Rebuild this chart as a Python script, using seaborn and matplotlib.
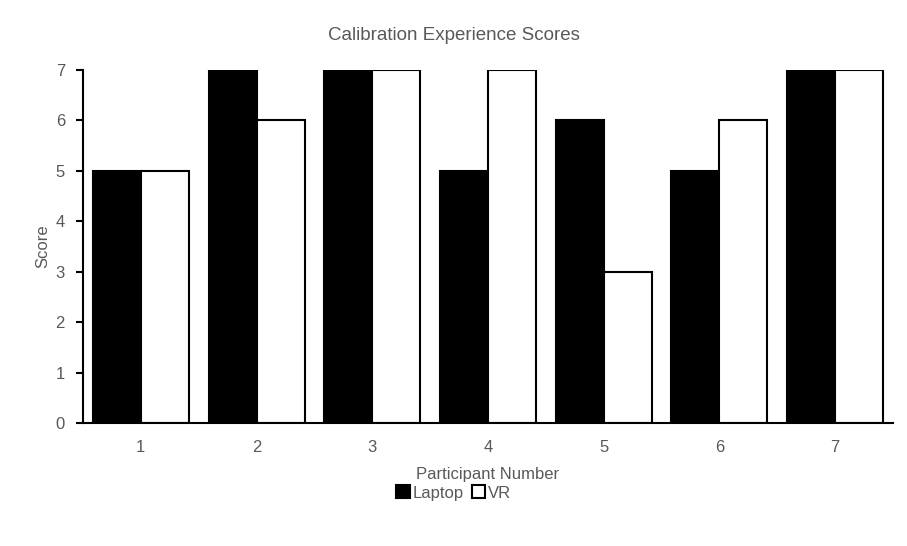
import matplotlib
matplotlib.use("Agg")
import matplotlib.pyplot as plt
import seaborn as sns
import pandas as pd
import numpy as np
from matplotlib.patches import Patch

participants = ["1", "2", "3", "4", "5", "6", "7"]
laptop = [5, 7, 7, 5, 6, 5, 7]
vr = [5, 6, 7, 7, 3, 6, 7]
series = ["Laptop", "VR"]
colors = {"Laptop": "#000000", "VR": "#ffffff"}

df = pd.DataFrame({
    "Participant": participants * 2,
    "Score": laptop + vr,
    "Device": ["Laptop"] * len(participants) + ["VR"] * len(participants),
})

sns.set_style("white")
plt.rcParams["font.family"] = ["Liberation Sans", "DejaVu Sans"]
gray = "#595959"
fs = 12

fig = plt.figure(figsize=(9.07, 5.46), dpi=100)
ax = fig.add_axes([83 / 907, 1 - 423 / 546, 810 / 907, 353 / 546])

sns.barplot(data=df, x="Participant", y="Score", hue="Device", order=participants,
            hue_order=series, palette=colors, edgecolor="black", linewidth=1.5,
            width=0.83, ax=ax, legend=False)

ax.set_ylim(0, 7)
ax.set_xlim(-0.5, len(participants) - 0.5)
ax.set_yticks(range(0, 8))
for s in ["top", "right"]:
    ax.spines[s].set_visible(False)
for s in ["left", "bottom"]:
    ax.spines[s].set_color("black")
    ax.spines[s].set_linewidth(1.5)

ax.set_xticks(np.arange(len(participants)))
ax.set_xticklabels(participants)
ax.set_xticks(np.arange(-0.5, len(participants)), minor=True)
ax.tick_params(axis="x", which="major", length=0, pad=12, labelsize=fs, labelcolor=gray)
ax.tick_params(axis="x", which="minor", length=5, width=1.5, color="black", direction="out")
ax.tick_params(axis="y", length=5, width=1.5, color="black", direction="out", left=True,
               labelsize=fs, labelcolor=gray, pad=8)

ax.set_xlabel("Participant Number", fontsize=fs, color=gray, labelpad=9)
ax.set_ylabel("Score", fontsize=fs, color=gray, labelpad=4)
fig.text(0.5, 1 - 36 / 546, "Calibration Experience Scores", ha="center", va="center",
         fontsize=13.5, color=gray)

handles = [Patch(facecolor=colors[s], edgecolor="black", linewidth=1.5, label=s) for s in series]
fig.legend(handles=handles, loc="center", bbox_to_anchor=(0.5, 1 - 493 / 546), ncol=2,
           frameon=False, fontsize=fs, handlelength=0.8, handleheight=0.8,
           handletextpad=0.15, columnspacing=0.5, labelcolor=gray)

fig.savefig("out.png", dpi=100)
